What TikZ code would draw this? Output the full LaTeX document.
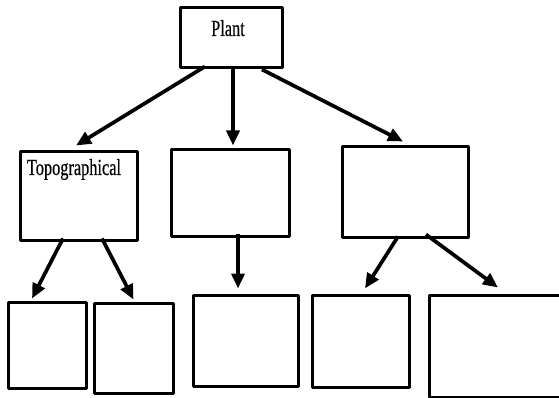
\documentclass[tikz,border=0pt]{standalone}
\usepackage{fontspec}
\newfontfamily\condserif[FakeStretch=0.71,FakeBold=0.4]{Liberation Serif}
\usetikzlibrary{arrows.meta}
\begin{document}
\begin{tikzpicture}[x=1pt,y=-1pt,
  box/.style={draw=black,line width=3pt,fill=white,inner sep=0pt,line join=round},
  lbl/.style={inner sep=0pt,font=\condserif\fontsize{23}{23}\selectfont,anchor=base},
  arr/.style={line width=3.7pt,-{Triangle[length=15pt,width=13pt]}}]
\useasboundingbox (0,0) rectangle (559,398);
\clip (0,0) rectangle (559,398);
\fill[white] (0,0) rectangle (559,398);
% boxes
\node[box,minimum width=102pt,minimum height=60pt] (plant) at (231,38) {};
\node[box,minimum width=117pt,minimum height=88pt] (topo) at (78.5,196) {};
\node[box,minimum width=118pt,minimum height=86pt] (mid) at (230,193) {};
\node[box,minimum width=126pt,minimum height=90pt] (right) at (405,192) {};
\node[box,minimum width=78pt,minimum height=86pt] (b1) at (47,345) {};
\node[box,minimum width=79pt,minimum height=90pt] (b2) at (133.5,348) {};
\node[box,minimum width=105pt,minimum height=91pt] (b3) at (245.5,340.5) {};
\node[box,minimum width=97pt,minimum height=92pt] (b4) at (360.5,341) {};
\node[box,minimum width=161pt,minimum height=102pt] (b5) at (509.5,346) {};
% labels
\node[lbl] (plantlbl) at (228,36) {Plant};
\node[lbl] (topolbl) at (74,175) {Topographical};
% arrows
\draw[arr] ([xshift=-26pt,yshift=3pt]plant.south) -- ([xshift=-2.5pt,yshift=5pt]topo.north);
\draw[arr] ([xshift=2pt]plant.south) -- ([xshift=3pt,yshift=3pt]mid.north);
\draw[arr] ([xshift=31pt]plant.south) -- ([xshift=-2pt,yshift=4pt]right.north);
\draw[arr] ([xshift=-15.5pt,yshift=3pt]topo.south) -- ([xshift=-15pt,yshift=2pt]b1.north);
\draw[arr] ([xshift=23.5pt,yshift=3pt]topo.south) -- ([yshift=2pt]b2.north);
\draw[arr] ([xshift=8pt,yshift=4pt]mid.south) -- ([xshift=-7.5pt,yshift=5pt]b3.north);
\draw[arr] ([xshift=-7pt,yshift=2pt]right.south) -- ([xshift=4.5pt,yshift=5pt]b4.north);
\draw[arr] ([xshift=21pt,yshift=4pt]right.south) -- ([xshift=-11.5pt,yshift=6pt]b5.north);
\end{tikzpicture}
\end{document}
